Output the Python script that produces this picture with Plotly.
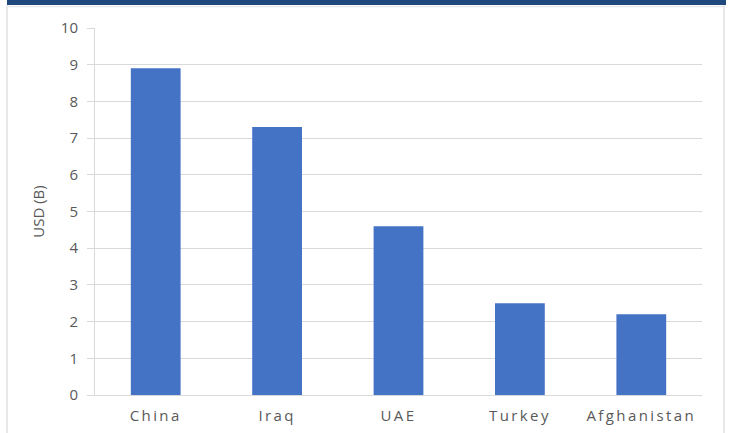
import plotly.graph_objects as go

categories = ["China", "Iraq", "UAE", "Turkey", "Afghanistan"]
values = [8.9, 7.3, 4.6, 2.5, 2.2]
y_ticks = list(range(0, 11))

W, H = 731, 433
L, R, T, B = 95, 29, 28, 38
pw, ph = W - L - R, H - T - B

def px_x(x):
    return (x - L) / pw

def px_y(y):
    return (H - B - y) / ph

fig = go.Figure(go.Bar(x=categories, y=values, marker=dict(color="#4472C4", line=dict(width=0)), width=0.41))

grid = "#d9d9d9"
fig.update_layout(
    width=W, height=H,
    margin=dict(l=L, r=R, t=T, b=B, autoexpand=False),
    paper_bgcolor="white", plot_bgcolor="white",
    showlegend=False,
    font=dict(family="Open Sans", color="#595959", size=15),
    xaxis=dict(showgrid=False, showline=True, linecolor=grid, linewidth=1, ticks="", automargin=False,
               tickfont=dict(size=15, color="#595959"), ticklabelstandoff=7),
    yaxis=dict(range=[0, 10], tickvals=y_ticks, showgrid=True, gridcolor=grid, gridwidth=1, automargin=False,
               showline=True, linecolor=grid, linewidth=1, ticks="outside", ticklen=7, tickcolor=grid,
               tickfont=dict(size=15, color="#595959"), ticklabelstandoff=6, zeroline=False,
               title=dict(text="USD (B)", font=dict(size=15, color="#595959"), standoff=12)),
    shapes=[
        dict(type="rect", xref="paper", yref="paper", x0=px_x(7), x1=px_x(726), y0=px_y(0), y1=px_y(5),
             fillcolor="#1F497D", line=dict(width=0), layer="above"),
        dict(type="line", xref="paper", yref="paper", x0=px_x(7), x1=px_x(7), y0=px_y(5), y1=px_y(433),
             line=dict(color="#e0e0e0", width=1.5)),
        dict(type="line", xref="paper", yref="paper", x0=px_x(724), x1=px_x(724), y0=px_y(5), y1=px_y(433),
             line=dict(color="#e0e0e0", width=1.5)),
        dict(type="line", xref="paper", yref="paper", x0=px_x(7), x1=px_x(724), y0=px_y(6.5), y1=px_y(6.5),
             line=dict(color="#e8e8e8", width=1.5)),
    ],
)

post = """
var s = document.createElement('style');
s.textContent = '.xtick text { letter-spacing: 2.4px; }';
document.head.appendChild(s);
"""

fig.write_html("out.html", post_script=post)
